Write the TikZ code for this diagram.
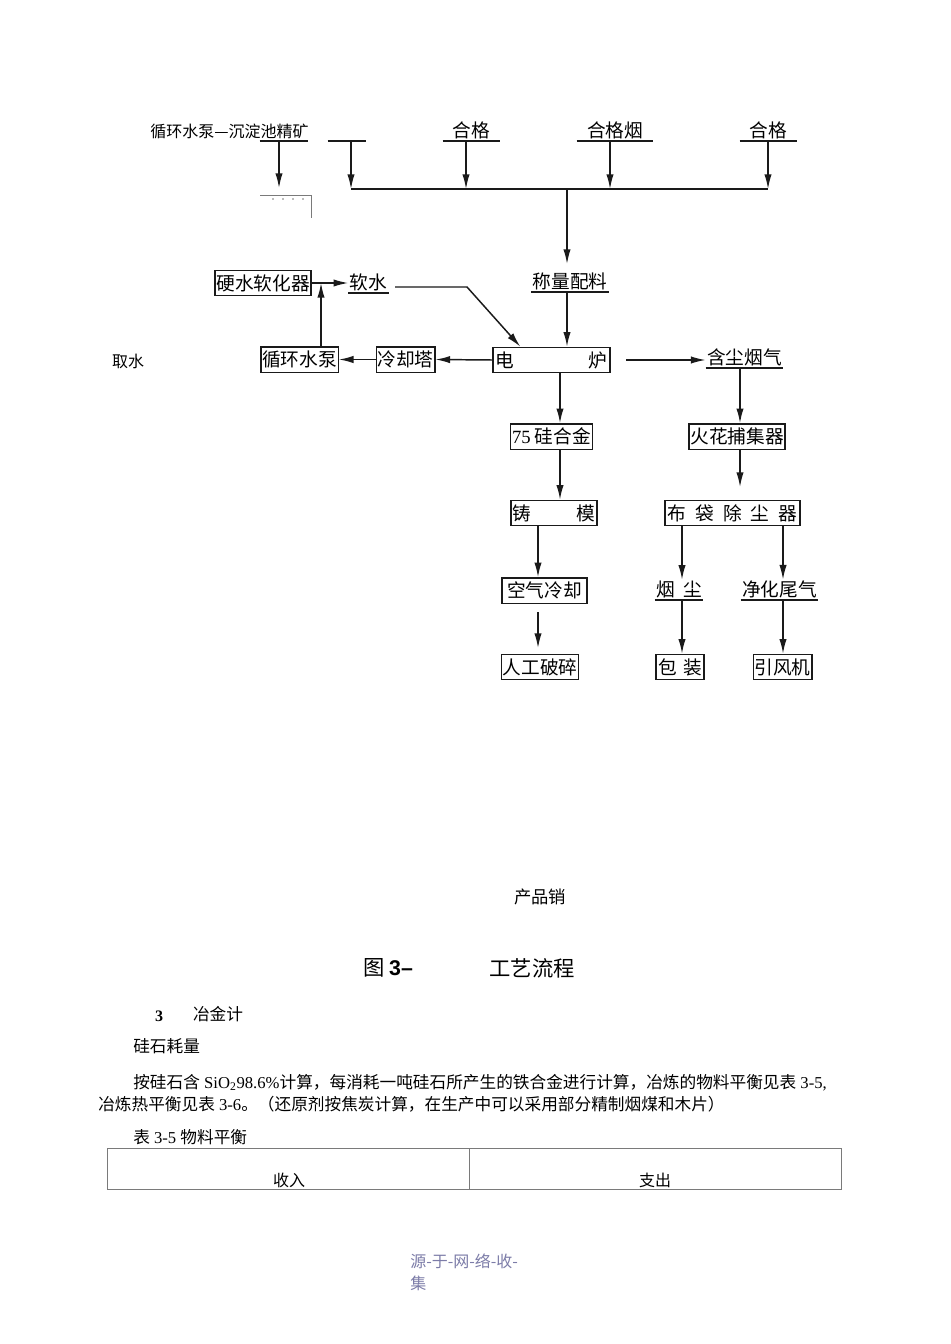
\documentclass[tikz,border=0pt]{standalone}
\usepackage{fontspec}
\setmainfont{Liberation Serif}
\setsansfont{Liberation Sans}
\newfontfamily\cjk{Noto Sans CJK SC}
\usetikzlibrary{arrows.meta,positioning}
\definecolor{ink}{HTML}{1A1A1A}
\definecolor{rule}{HTML}{7A7A7A}
\definecolor{mark}{HTML}{7C7CA8}

\begin{document}
\begin{tikzpicture}[x=.75pt,y=-.75pt,line cap=butt,line join=miter,
    box/.style={draw=ink,line width=1pt,inner sep=1pt,minimum height=19pt,
      font=\cjk\fontsize{14}{16}\selectfont},
    ulabel/.style={inner sep=1pt,anchor=south,font=\cjk\fontsize{14}{16}\selectfont},
    wire/.style={draw=ink,line width=1.1pt},
    arr/.style={wire,-{Latex[length=11pt,width=5.5pt]}},
    body/.style={inner sep=0pt,anchor=base west,font=\fontsize{12.5}{15}\selectfont}]
  \path[use as bounding box] (0,0) rectangle (950,1344);
  \fill[white] (0,0) rectangle (950,1344);

  % Raw materials on top, all dropping onto one feed line.
  \node[ulabel,anchor=base west,inner sep=0pt,font=\cjk\fontsize{12}{14}\selectfont]
    (head) at (150,138) {循环水泵—沉淀池精矿};
  \node[ulabel,minimum width=36pt] (ore) at (284,141) {};
  \node[ulabel,minimum width=28.5pt] (blank) at (347,141) {};
  \node[ulabel,minimum width=42.75pt] (q1) at (471.5,141) {合格};
  \node[ulabel,minimum width=57pt] (q2) at (615,141) {合格烟};
  \node[ulabel,minimum width=42.75pt] (q3) at (768.5,141) {合格};
  \coordinate (t0) at (279,188);
  \coordinate (t1) at (466,189);
  \coordinate (t2) at (610,189);
  \coordinate (busL) at (351,189);
  \coordinate (busC) at (567,189);
  \coordinate (busR) at (768,189);
  \draw[arr] (ore.south -| t0) -- (t0);
  \draw[arr] (blank.south -| busL) -- (busL);
  \draw[arr] (q1.south -| t1) -- (t1);
  \draw[arr] (q2.south -| t2) -- (t2);
  \draw[arr] (q3.south -| busR) -- (busR);
  \draw[wire] (busL) -- (busR);
  \draw[rule,line width=.6pt] (260,195) -- (311,195) -- (311,218);
  \foreach \x in {273,283,293,303}
    \fill[rule] (\x,199) circle (.8);

  % Water loop and furnace.
  \node[box,minimum width=72pt] (hard) at (263,283) {硬水软化器};
  \node[ulabel,minimum width=27.75pt] (soft) at (368.5,293) {软水};
  \node[box,minimum width=57.75pt] (pump) at (299.5,359.5) {循环水泵};
  \node[box,minimum width=42.75pt] (tower) at (405.5,359.5) {冷却塔};
  \node[box,minimum width=87.75pt] (furnace) at (551.5,360) {\makebox[84pt]{电\hfill 炉}};
  \node[ulabel,minimum width=57pt] (batch) at (570,292) {称量配料};
  \node[ulabel,minimum width=56.25pt] (fume) at (744.5,368) {含尘烟气};
  \node[font=\cjk\fontsize{12}{14}\selectfont] (intake) at (128,361) {取水};
  \coordinate (jn) at (321,283);
  \coordinate (softout) at (395,287);
  \coordinate (bend) at (467,287);
  \coordinate (batchin) at (567,264);
  \coordinate (hotout) at (626,360);
  \draw[arr] (busC) -- (batchin);
  \draw[arr] (batch.south -| busC) -- (furnace.north -| busC);
  \draw[arr] (hard.east) -- (soft.west |- hard.east);
  \draw[arr] (pump.north -| jn) -- (jn);
  \draw[arr] (softout) -- (bend) -- ([xshift=21pt]furnace.north west);
  \draw[arr] (furnace.west) -- (tower.east);
  \draw[arr] (tower.west) -- (pump.east);
  \draw[arr] (hotout) -- (fume.west |- hotout);

  % Product line on the left, dust line on the right.
  \node[box,minimum width=60.75pt] (alloy) at (551.5,436.5) {{\rmfamily 75} 硅合金};
  \node[box,minimum width=72pt] (spark) at (737,436.5) {火花捕集器};
  \node[box,minimum width=64.5pt] (mould) at (554,513) {\makebox[62pt]{铸\hfill 模}};
  \node[box,minimum width=101.25pt] (bag) at (732.5,513)
    {\makebox[97pt]{布\hfill 袋\hfill 除\hfill 尘\hfill 器}};
  \node[box,minimum width=63.75pt] (aircool) at (544.5,590.5) {空气冷却};
  \node[ulabel,minimum width=36pt] (dust) at (679,600) {\makebox[34pt]{烟\hfill 尘}};
  \node[ulabel,minimum width=56.25pt] (gas) at (779.5,600) {净化尾气};
  \node[box,minimum width=57pt] (crush) at (540,667) {人工破碎};
  \node[box,minimum width=36pt] (pack) at (680,667) {\makebox[33pt]{包\hfill 装}};
  \node[box,minimum width=42.75pt] (fan) at (782.5,667) {引风机};
  \coordinate (colA) at (560,0);
  \coordinate (colB) at (538,0);
  \coordinate (colC) at (740,0);
  \coordinate (colD) at (682,0);
  \coordinate (colE) at (783,0);
  \coordinate (coolout) at (538,612);
  \coordinate (crushin) at (538,648);
  \coordinate (bagin) at (740,487);
  \draw[arr] (furnace.south -| colA) -- (alloy.north -| colA);
  \draw[arr] (alloy.south -| colA) -- (mould.north -| colA);
  \draw[arr] (mould.south -| colB) -- (aircool.north -| colB);
  \draw[arr] (coolout) -- (crushin);
  \draw[arr] (fume.south -| colC) -- (spark.north -| colC);
  \draw[arr] (spark.south -| colC) -- (bagin);
  \draw[arr] (bag.south -| colD) -- (dust.north -| colD);
  \draw[arr] (bag.south -| colE) -- (gas.north -| colE);
  \draw[arr] (dust.south -| colD) -- (pack.north -| colD);
  \draw[arr] (gas.south -| colE) -- (fan.north -| colE);
  \foreach \n in {ore,blank,q1,q2,q3,soft,batch,fume,dust,gas}
    \draw[wire] (\n.south west) -- (\n.south east);

  % Caption and the page text below the chart.
  \node[font=\cjk\fontsize{13}{15}\selectfont] (sales) at (540,897) {产品销};
  \node[font=\cjk\fontsize{16}{18}\selectfont] (figno) at (388,968)
    {图 {\sffamily\bfseries 3–}};
  \node[font=\cjk\fontsize{16}{18}\selectfont] (figtitle) at (532,968) {工艺流程};
  \node[font=\bfseries\fontsize{12}{14}\selectfont] (secno) at (159,1016) {3};
  \node[font=\cjk\fontsize{12.5}{14}\selectfont] (sectitle) at (218,1014) {冶金计};
  \node[body] (sub) at (133,1052) {\cjk 硅石耗量};
  \node[body] (line1) at (133,1088)
    {{\cjk 按硅石含} SiO\textsubscript{2}98.6\%{\cjk 计算，每消耗一吨硅石所产生的铁合金进行计算，冶炼的物料平衡见表} 3-5,};
  \node[body] (line2) at (98,1110)
    {{\cjk 冶炼热平衡见表} 3-6{\cjk 。（还原剂按焦炭计算，在生产中可以采用部分精制烟煤和木片）}};
  \node[body] (tabcap) at (133,1143) {{\cjk 表} 3-5 {\cjk 物料平衡}};
  \draw[rule,line width=.6pt] (107,1148) rectangle (841,1189);
  \draw[rule,line width=.6pt] (469,1148) -- (469,1189);
  \node[font=\cjk\fontsize{12}{14}\selectfont] (income) at (289,1180) {收入};
  \node[font=\cjk\fontsize{12}{14}\selectfont] (outgo) at (655,1180) {支出};
  \node[body,text=mark,font=\cjk\fontsize{12}{14}\selectfont] (src) at (410,1267) {源-于-网-络-收-};
  \node[body,text=mark,font=\cjk\fontsize{12}{14}\selectfont] (src2) at (410,1289) {集};
\end{tikzpicture}
\end{document}
